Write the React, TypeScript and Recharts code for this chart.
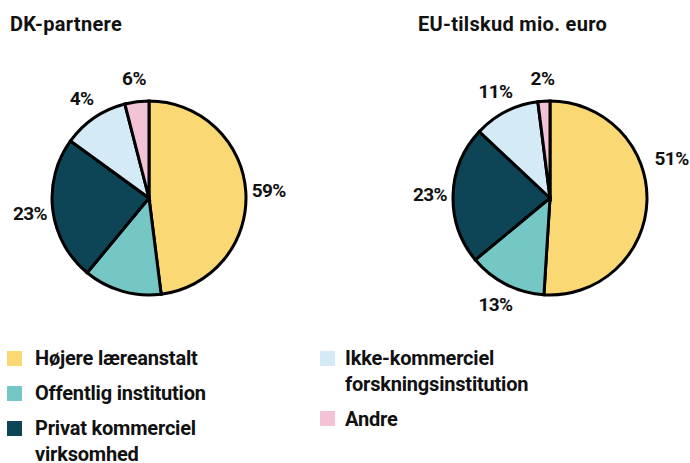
import React from "react"
import { PieChart, Pie, Cell } from "recharts"

// kategorier (samme rækkefølge i begge cirkler)
const categories = [
  "Højere læreanstalt",
  "Offentlig institution",
  "Privat kommerciel virksomhed",
  "Ikke-kommerciel forskningsinstitution",
  "Andre",
]
const colors = ["#FAD975", "#74C7C4", "#0D4557", "#D4EAF7", "#F4C2D6"]

// DK-partnere: andele aflæst fra cirklen, og etiketterne som de står i figuren
const dkShares = [48, 13, 24, 11, 4]
const dkLabels = ["59%", "", "23%", "4%", "6%"]

// EU-tilskud mio. euro
const euShares = [51, 13, 23, 11, 2]
const euLabels = ["51%", "13%", "23%", "11%", "2%"]

const FONT = "Roboto, 'DejaVu Sans', sans-serif"
const INK = "#111"
const RAD = Math.PI / 180

const toRows = (shares: number[], labels: string[]) =>
  shares.map((v, i) => ({ name: categories[i], value: v, label: labels[i] }))

// lidt justering af enkelte etiketter (vinkel i grader, ekstra afstand)
const nudge: Record<string, [number, number]> = {
  "eu-0": [20, 8],
}

const makeLabel = (key: string) => (props: any) => {
  const { cx, cy, midAngle, outerRadius, index, payload } = props
  const text = payload?.label ?? ""
  if (!text) return null
  const [da, dr] = nudge[`${key}-${index}`] ?? [0, 0]
  const a = (midAngle + da) * RAD
  const r = outerRadius + 23 + dr
  const x = cx + r * Math.cos(a)
  const y = cy - r * Math.sin(a)
  return (
    <text
      x={x}
      y={y}
      textAnchor="middle"
      dominantBaseline="central"
      fontFamily={FONT}
      fontWeight={700}
      fontSize={19}
      letterSpacing={-0.6}
      fill={INK}
    >
      {text}
    </text>
  )
}

const legendItem = (gap: number) => (i: number) => (
  <div key={i} style={{ display: "flex", alignItems: "flex-start", marginBottom: 9.5 }}>
    <div style={{ width: 15, height: 15, background: colors[i], marginTop: 4.5, flex: "none" }} />
    <div style={{ marginLeft: gap }}>{categories[i]}</div>
  </div>
)

const legendText: React.CSSProperties = {
  position: "absolute",
  top: 346,
  fontSize: 20,
  lineHeight: "25.5px",
  letterSpacing: -0.2,
}

const title: React.CSSProperties = {
  position: "absolute",
  top: 15,
  fontSize: 20,
  lineHeight: "19px",
  letterSpacing: 0.3,
}

export default function App() {
  return (
    <div
      style={{
        position: "absolute",
        left: 0,
        top: 0,
        width: 690,
        height: 463,
        background: "#fff",
        fontFamily: FONT,
        fontWeight: 700,
        color: INK,
        overflow: "hidden",
      }}
    >
      <div style={{ ...title, left: 10 }}>DK-partnere</div>
      <div style={{ ...title, left: 418 }}>EU-tilskud mio. euro</div>

      <div style={{ position: "absolute", left: 0, top: 0 }}>
        <PieChart width={690} height={330} margin={{ top: 0, right: 0, bottom: 0, left: 0 }}>
          <Pie
            data={toRows(dkShares, dkLabels)}
            dataKey="value"
            cx={149}
            cy={198}
            outerRadius={97}
            startAngle={90}
            endAngle={-270}
            stroke="#000"
            strokeWidth={3}
            label={makeLabel("dk")}
            labelLine={false}
            isAnimationActive={false}
          >
            {dkShares.map((_, i) => (
              <Cell key={i} fill={colors[i]} />
            ))}
          </Pie>
          <Pie
            data={toRows(euShares, euLabels)}
            dataKey="value"
            cx={550}
            cy={198}
            outerRadius={97}
            startAngle={90}
            endAngle={-270}
            stroke="#000"
            strokeWidth={3}
            label={makeLabel("eu")}
            labelLine={false}
            isAnimationActive={false}
          >
            {euShares.map((_, i) => (
              <Cell key={i} fill={colors[i]} />
            ))}
          </Pie>
        </PieChart>
      </div>

      <div style={{ ...legendText, left: 7, width: 200 }}>{[0, 1, 2].map(legendItem(13))}</div>
      <div style={{ ...legendText, left: 320, width: 230 }}>{[3, 4].map(legendItem(10))}</div>
    </div>
  )
}
